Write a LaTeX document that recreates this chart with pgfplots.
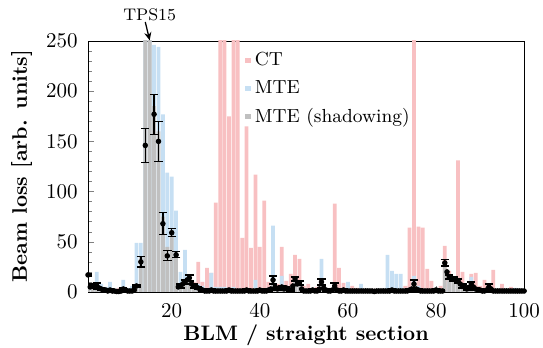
\documentclass[border=0pt]{standalone}
\usepackage{pgfplots}
\pgfplotsset{compat=1.18}
\usepackage{pgfplotstable}
\usetikzlibrary{arrows.meta}
\definecolor{ctc}{RGB}{248,192,194}
\definecolor{mtec}{RGB}{198,223,243}
\definecolor{shc}{RGB}{192,192,192}
\pgfplotsset{sqlegend/.style={legend image code/.code={\fill[##1] (0pt,-1.3pt) rectangle (2.6pt,1.3pt);}}}

\pgfplotstableread{
x ct mte sh
1 0 5 3
2 0 6 4
3 0 20 5
4 0 8 4
5 0 5 2
6 0 10 2
7 0 3 1
8 4 3 1
9 0 12 3
10 0 4 2
11 0 6 3
12 0 49 5
13 0 49 35
14 0 260 260
15 0 300 300
16 0 246 185
17 0 244 160
18 0 177 75
19 0 119 45
20 0 115 62
21 0 81 40
22 0 20 8
23 0 42 10
24 0 10 12
25 10 8 6
26 30 8 5
27 10 6 4
28 24 4 2
29 19 19 2
30 89 5 2
31 300 5 2
32 300 5 2
33 175 4 2
34 300 5 2
35 300 3 2
36 54 3 1
37 165 3 1
38 44 2 1
39 117 12 1
40 45 3 1
41 91 3 1
42 10 4 2
43 0 66 12
44 8 3 2
45 45 16 5
46 11 4 3
47 18 4 3
48 37 8 13
49 33 6 9
50 6 3 2
51 8 3 2
52 3 2 1
53 5 3 2
54 5 33 10
55 3 2 2
56 4 3 2
57 88 5 6
58 24 3 2
59 9 2 1
60 5 10 2
61 6 2 1
62 4 2 1
63 2 8 1
64 2 2 1
65 2 2 1
66 3 2 1
67 2 2 1
68 2 2 1
69 2 37 2
70 3 21 2
71 3 18 2
72 3 18 2
73 6 3 2
74 64 4 2
75 300 16 8
76 65 6 3
77 64 3 2
78 23 3 2
79 11 2 1
80 4 2 1
81 6 2 2
82 46 2 30
83 21 10 16
84 15 10 12
85 131 5 10
86 20 3 5
87 6 3 3
88 18 15 3
89 19 5 3
90 6 3 2
91 12 3 2
92 3 4 4
93 22 3 2
94 3 2 1
95 8 2 1
96 3 2 1
97 5 2 1
98 2 4 1
99 2 3 1
100 2 2 1
}\bars

\pgfplotstableread{
x y e
1 17 1
2 6 2
3 6 3
4 3 1
5 2 1
6 2 1
7 1 1
8 0.5 1
9 3 1
10 1 1
11 1 1
12 6 1
13 30 5
14 146 17
16 177 20
17 150 20
18 68 11
19 36 5
20 59 4
21 37 3
22 6 2
23 10 2
24 14 3
25 6 2
26 4 1
27 2 1
28 1 1
29 2 1
30 1 1
31 1 1
32 1 1
33 2 1
34 1 1
35 1 1
36 1 1
37 2 1
38 1 1
39 1 1
40 2 1
41 1 1
42 2 1
43 12 4
44 3 1
45 5 1
46 4 1
47 2 1
48 13 2
49 9 2
50 1 1
51 1 1
52 2 1
53 1 1
54 10 3
55 2 1
56 1 1
57 6 3
58 1 1
59 2 1
60 1 1
61 1 1
62 1 1
63 1 1
64 1 1
65 1 1
66 0.5 1
67 1 1
68 1 1
69 1 1
70 2 1
71 1 1
72 1 1
73 1 1
74 2 1
75 8 4
76 2 1
77 1 1
78 1 1
79 1 1
80 2 1
81 1 1
82 29 3
83 15 2
84 13 2
85 11 2
86 6 2
87 3 1
88 8 2
89 3 1
90 2 1
91 1 1
92 5 3
93 1 1
94 1 1
95 1 1
96 1 1
97 1 1
98 1 1
99 1 1
100 1 1
}\meas

\pgfplotstableread{
x y
1.5 5
2.5 7
3.5 4
4.5 2
5.5 1
6.5 1
7.5 0.5
8.5 1
9.5 2
10.5 1
11.5 2
21.5 5
22.5 8
23.5 12
24.5 8
25.5 5
26.5 3
27.5 1
28.5 1
29.5 1
30.5 1
31.5 1
32.5 1
33.5 1
34.5 1
35.5 1
36.5 1
37.5 1
38.5 1
39.5 1
40.5 1
41.5 1
42.5 3
43.5 5
44.5 4
45.5 3
46.5 2
47.5 6
48.5 8
49.5 3
50.5 1
51.5 1
52.5 1
53.5 3
54.5 4
55.5 1
56.5 2
57.5 2
58.5 1
59.5 1
60.5 1
61.5 1
62.5 1
63.5 1
64.5 1
65.5 1
66.5 1
67.5 1
68.5 1
69.5 1
70.5 1
71.5 1
72.5 1
73.5 1
74.5 3
75.5 3
76.5 1
77.5 1
78.5 1
79.5 1
80.5 1
81.5 1
82.5 20
83.5 14
84.5 12
85.5 8
86.5 5
87.5 4
88.5 5
89.5 2
90.5 1
91.5 2
92.5 3
93.5 1
94.5 1
95.5 1
96.5 1
97.5 1
98.5 1
99.5 1
}\half

\begin{document}
\begin{tikzpicture}
\begin{axis}[
  name=ax,
  scale only axis, width=207.6pt, height=119.5pt,
  xmin=1, xmax=100, ymin=0, ymax=250,
  xtick={20,40,60,80,100}, ytick={0,50,100,150,200,250},
  minor x tick num=9, minor y tick num=4,
  tick pos=left, tick align=inside,
  major tick length=3pt, minor tick length=1.8pt,
  xticklabel style={yshift=-2pt},
  yticklabel style={xshift=-1.4pt},
  xlabel={\bfseries BLM / straight section},
  ylabel={\bfseries Beam loss [arb. units]},
  xlabel style={at={(axis description cs:0.5,-0.195)}, anchor=base},
  ylabel style={at={(axis description cs:-0.152,0.5)}, anchor=center},
  clip mode=individual,
  legend style={at={(0.345,0.99)}, anchor=north west, draw=none, fill=none,
    font=\small, row sep=1.5pt},
  legend cell align=left,
]
\addplot[ybar, bar width=0.85, bar shift=0pt, fill=ctc, draw=none, sqlegend] table[x=x,y=ct]{\bars};
\addlegendentry{CT}
\addplot[ybar, bar width=0.85, bar shift=0pt, fill=mtec, draw=none, sqlegend] table[x=x,y=mte]{\bars};
\addlegendentry{MTE}
\addplot[ybar, bar width=0.85, bar shift=0pt, fill=shc, draw=none, sqlegend] table[x=x,y=sh]{\bars};
\addlegendentry{MTE (shadowing)}
\addplot[only marks, mark=*, mark size=1.1pt, black, forget plot,
  error bars/.cd, y dir=both, y explicit,
  error bar style={line width=0.6pt, black},
  error mark options={black, mark size=2pt, line width=0.6pt, rotate=90}]
  table[x=x, y=y, y error=e]{\meas};
\addplot[only marks, mark=*, mark size=1.1pt, black, forget plot] table[x=x,y=y]{\half};
\draw[-{Stealth[length=3.8pt,width=3.4pt]}, line width=0.6pt] (axis cs:15,250) ++(0,8.8pt) -- ([yshift=0.3pt]axis cs:15,250);
\node[font=\footnotesize, anchor=base, inner sep=0pt] at ([yshift=9.7pt]axis cs:15,250) {TPS15};
\end{axis}
\pgfresetboundingbox
\path ([shift={(-41.9pt,-26.2pt)}]ax.south west) rectangle ([shift={(9pt,19.5pt)}]ax.north east);
\end{tikzpicture}
\end{document}
